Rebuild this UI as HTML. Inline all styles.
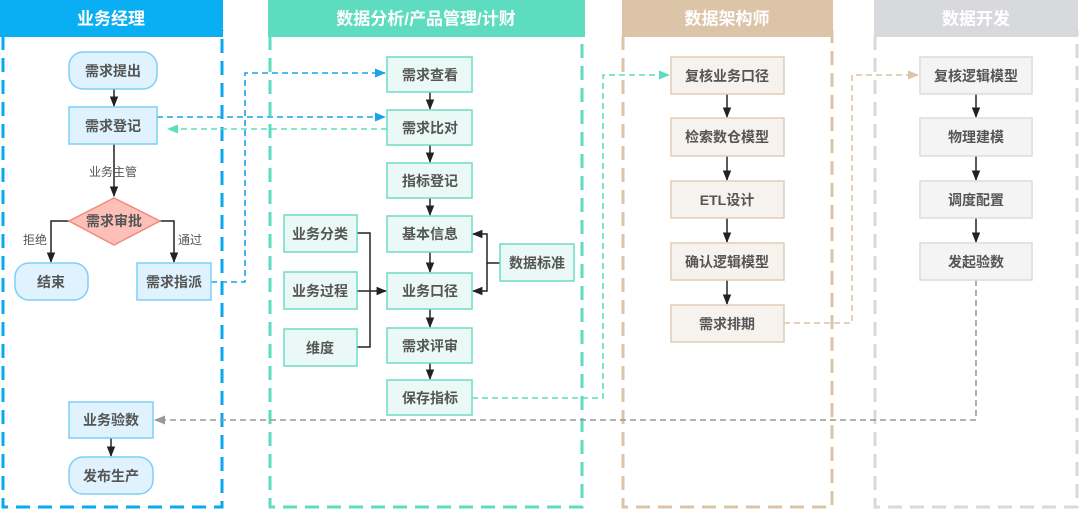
<!DOCTYPE html>
<html><head><meta charset="utf-8"><style>
body{margin:0;background:#fff;}
svg{display:block;font-family:"Liberation Sans","Noto Sans CJK SC",sans-serif;}
.t{font-size:14px;fill:#555;text-anchor:middle;dominant-baseline:central;font-weight:bold}
.s{font-size:12px;fill:#555;text-anchor:middle;dominant-baseline:central}
.h{font-size:17px;fill:#fff;text-anchor:middle;dominant-baseline:central;font-weight:bold}
</style></head><body>
<svg width="1080" height="512" viewBox="0 0 1080 512">
<defs>
<marker id="a" viewBox="0 0 10 10" refX="9" refY="5" markerWidth="7" markerHeight="7" orient="auto"><path d="M0,1L10,5L0,9z" fill="#222"/></marker>
<marker id="ab" viewBox="0 0 10 10" refX="9" refY="5" markerWidth="7" markerHeight="7" orient="auto"><path d="M0,1L10,5L0,9z" fill="#1aa3e8"/></marker>
<marker id="at" viewBox="0 0 10 10" refX="9" refY="5" markerWidth="7" markerHeight="7" orient="auto"><path d="M0,1L10,5L0,9z" fill="#5ddcc0"/></marker>
<marker id="an" viewBox="0 0 10 10" refX="9" refY="5" markerWidth="7" markerHeight="7" orient="auto"><path d="M0,1L10,5L0,9z" fill="#dcc4a8"/></marker>
<marker id="ag" viewBox="0 0 10 10" refX="9" refY="5" markerWidth="7" markerHeight="7" orient="auto"><path d="M0,1L10,5L0,9z" fill="#999"/></marker>
</defs>
<!-- lanes -->
<g fill="none" stroke-width="3" stroke-dasharray="14 8">
<path d="M3,36V507H222V30" stroke="#0aa8f0"/>
<path d="M270,36V507H582V30" stroke="#5ddcc0"/>
<path d="M623,36V507H832V30" stroke="#dcc4a8"/>
<path d="M875,36V507H1077V30" stroke="#d8d9dc"/>
</g>
<rect x="0" y="0" width="223" height="37" fill="#0aaef2"/><text class="h" x="111" y="19">业务经理</text>
<rect x="268" y="0" width="317" height="37" fill="#5ddcc0"/><text class="h" x="426" y="19">数据分析/产品管理/计财</text>
<rect x="622" y="0" width="211" height="37" fill="#dcc4a8"/><text class="h" x="727" y="19">数据架构师</text>
<rect x="874" y="0" width="204" height="37" fill="#d8d9dc"/><text class="h" x="976" y="19">数据开发</text>
<!-- dashed connectors -->
<g fill="none" stroke-width="1.6" stroke-dasharray="6 4">
<path d="M211,282H245V73H385" stroke="#1aa3e8" marker-end="url(#ab)"/>
<path d="M157,117H385" stroke="#1aa3e8" marker-end="url(#ab)"/>
<path d="M387,129H168" stroke="#5ddcc0" marker-end="url(#at)"/>
<path d="M472,398H603V75H669" stroke="#5ddcc0" marker-end="url(#at)"/>
<path d="M784,323H852V75H918" stroke="#dcc4a8" marker-end="url(#an)"/>
<path d="M976,280V420H155" stroke="#999" marker-end="url(#ag)"/>
</g>
<!-- solid arrows -->
<g fill="none" stroke="#222" stroke-width="1.5">
<path d="M114,89V106" marker-end="url(#a)"/>
<path d="M114,144V196" marker-end="url(#a)"/>
<path d="M69,221H51V262" marker-end="url(#a)"/>
<path d="M160,221H174V262" marker-end="url(#a)"/>
<path d="M111,438V456" marker-end="url(#a)"/>
<path d="M430,92V109" marker-end="url(#a)"/>
<path d="M430,145V162" marker-end="url(#a)"/>
<path d="M430,198V215" marker-end="url(#a)"/>
<path d="M430,252V272" marker-end="url(#a)"/>
<path d="M430,309V327" marker-end="url(#a)"/>
<path d="M430,363V379" marker-end="url(#a)"/>
<path d="M357,233H370V347H357M357,291H386" marker-end="url(#a)"/>
<path d="M500,263H487V234H473" marker-end="url(#a)"/>
<path d="M487,263V291H473" marker-end="url(#a)"/>
<path d="M727,94V117" marker-end="url(#a)"/>
<path d="M727,156V180" marker-end="url(#a)"/>
<path d="M727,218V242" marker-end="url(#a)"/>
<path d="M727,280V304" marker-end="url(#a)"/>
<path d="M976,94V117" marker-end="url(#a)"/>
<path d="M976,156V180" marker-end="url(#a)"/>
<path d="M976,218V242" marker-end="url(#a)"/>
</g>
<!-- lane1 nodes -->
<g fill="#dff2fd" stroke="#7dcff5" stroke-width="1.5">
<rect x="69" y="52" width="88" height="37" rx="14"/>
<rect x="69" y="107" width="88" height="37"/>
<rect x="15" y="263" width="73" height="37" rx="14"/>
<rect x="137" y="263" width="74" height="37"/>
<rect x="69" y="402" width="84" height="36"/>
<rect x="69" y="457" width="84" height="37" rx="14"/>
</g>
<path d="M114,198L160,221L114,245L69,221Z" fill="#fcc0b8" stroke="#f08a80" stroke-width="1.5"/>
<text class="t" x="113" y="71">需求提出</text>
<text class="t" x="113" y="126">需求登记</text>
<text class="s" x="113" y="172">业务主管</text>
<text class="t" x="114" y="221">需求审批</text>
<text class="s" x="35" y="240">拒绝</text>
<text class="s" x="190" y="240">通过</text>
<text class="t" x="51" y="282">结束</text>
<text class="t" x="174" y="282">需求指派</text>
<text class="t" x="111" y="420">业务验数</text>
<text class="t" x="111" y="476">发布生产</text>
<!-- lane2 -->
<g fill="#eaf9f5" stroke="#6fdcc4" stroke-width="1.5">
<rect x="387" y="57" width="85" height="35"/>
<rect x="387" y="110" width="85" height="35"/>
<rect x="387" y="163" width="85" height="35"/>
<rect x="387" y="216" width="85" height="36"/>
<rect x="387" y="273" width="85" height="36"/>
<rect x="387" y="328" width="85" height="35"/>
<rect x="387" y="380" width="85" height="35"/>
<rect x="284" y="215" width="73" height="37"/>
<rect x="284" y="272" width="73" height="37"/>
<rect x="284" y="329" width="73" height="37"/>
<rect x="500" y="244" width="74" height="37"/>
</g>
<text class="t" x="430" y="75">需求查看</text>
<text class="t" x="430" y="128">需求比对</text>
<text class="t" x="430" y="181">指标登记</text>
<text class="t" x="430" y="234">基本信息</text>
<text class="t" x="430" y="291">业务口径</text>
<text class="t" x="430" y="346">需求评审</text>
<text class="t" x="430" y="398">保存指标</text>
<text class="t" x="320" y="234">业务分类</text>
<text class="t" x="320" y="291">业务过程</text>
<text class="t" x="320" y="348">维度</text>
<text class="t" x="537" y="263">数据标准</text>
<!-- lane3 -->
<g fill="#f6f3ef" stroke="#e2cdb5" stroke-width="1.5">
<rect x="671" y="57" width="113" height="37"/>
<rect x="671" y="118" width="113" height="38"/>
<rect x="671" y="181" width="113" height="37"/>
<rect x="671" y="243" width="113" height="37"/>
<rect x="671" y="305" width="113" height="37"/>
</g>
<text class="t" x="727" y="76">复核业务口径</text>
<text class="t" x="727" y="137">检索数仓模型</text>
<text class="t" x="727" y="200">ETL设计</text>
<text class="t" x="727" y="262">确认逻辑模型</text>
<text class="t" x="727" y="324">需求排期</text>
<!-- lane4 -->
<g fill="#f4f4f4" stroke="#dcdcdc" stroke-width="1.5">
<rect x="920" y="57" width="112" height="37"/>
<rect x="920" y="118" width="112" height="38"/>
<rect x="920" y="181" width="112" height="37"/>
<rect x="920" y="243" width="112" height="37"/>
</g>
<text class="t" x="976" y="76">复核逻辑模型</text>
<text class="t" x="976" y="137">物理建模</text>
<text class="t" x="976" y="200">调度配置</text>
<text class="t" x="976" y="262">发起验数</text>
</svg>
</body></html>
